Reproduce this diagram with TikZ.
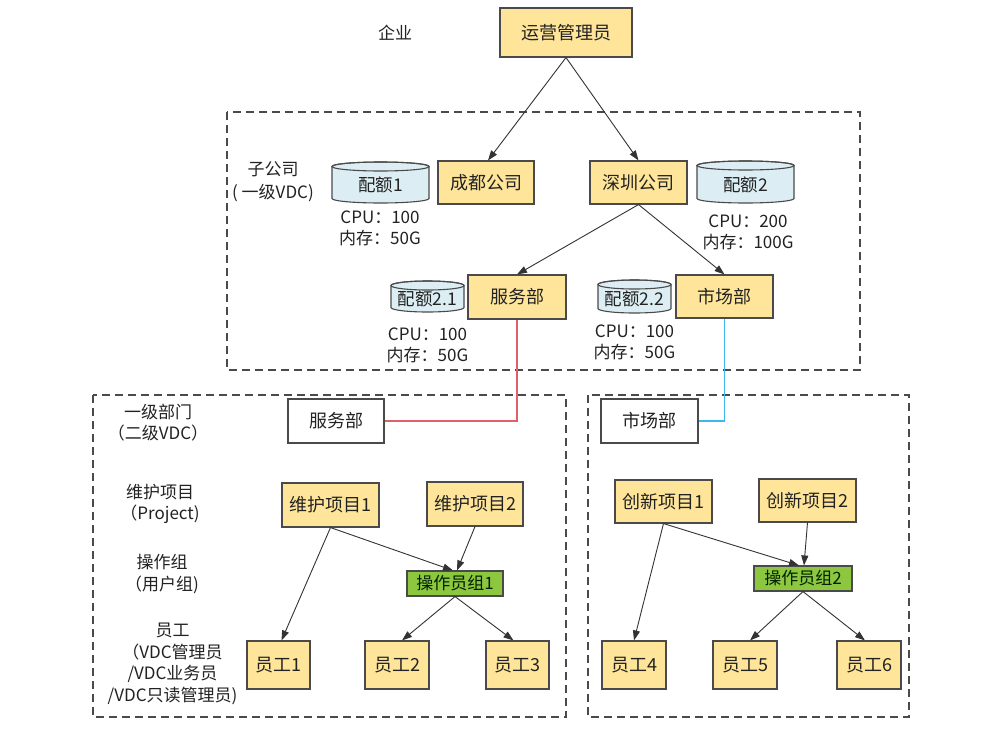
\documentclass[tikz,border=0pt]{standalone}
\usepackage{fontspec}
\setmainfont{Noto Sans CJK SC}
\usetikzlibrary{arrows.meta,calc}
\definecolor{ylw}{HTML}{FFE599}
\definecolor{grn}{HTML}{8DC63F}
\definecolor{cyl}{HTML}{DCEEF3}
\definecolor{bdr}{HTML}{4A4A4A}
\definecolor{arr}{HTML}{333333}
\definecolor{redl}{HTML}{E06068}
\definecolor{bluel}{HTML}{3DB8EA}
\definecolor{txt}{HTML}{222222}
\newcommand{\mycyl}[6]{% name, x0, y0, x1, y1, text
  \path[draw=bdr,fill=cyl,line width=1.1pt] (#2,#3+4.5) -- (#2,#5-4.5)
    arc[start angle=180,end angle=0,x radius={(#4-#2)/2},y radius=4.5]
    -- (#4,#3+4.5)
    arc[start angle=0,end angle=-180,x radius={(#4-#2)/2},y radius=4.5] -- cycle;
  \draw[bdr,line width=1.1pt] ({(#2+#4)/2},#3+4.5) ellipse[x radius={(#4-#2)/2},y radius=4.5];
  \node[txt,inner sep=0pt,font=\fontsize{17.5}{20}\selectfont] (#1) at ({(#2+#4)/2},{(#3+#5)/2+2.5}) {#6};
}
\begin{document}
\begin{tikzpicture}[x=1pt,y=-1pt,
  base/.style={draw=bdr,line width=1.1pt,text=txt,inner sep=0pt,
    font=\fontsize{18}{20}\selectfont},
  ybox/.style={base,fill=ylw},
  wbox/.style={base,fill=white},
  gbox/.style={base,fill=grn,text=black!75!green!50!black,font=\fontsize{17}{18}\selectfont},
  lbl/.style={text=txt,align=center,inner sep=0pt,font=\fontsize{17}{21.5}\selectfont},
  qlbl/.style={text=txt,align=center,inner sep=0pt,font=\fontsize{17}{21}\selectfont},
  sz/.style 2 args={minimum width=#1pt,minimum height=#2pt},
  arrow/.style={draw=arr,line width=0.9pt,-{Triangle[length=10pt,width=7pt]}},
  region/.style={draw=bdr,line width=1.1pt,dash pattern=on 8pt off 5pt}]
\useasboundingbox (0,0) rectangle (1000,734);
\fill[white] (0,0) rectangle (1000,734);

% dashed regions
\draw[region] (227,112) rectangle (860,370);
\draw[region] (93,395) rectangle (566,717);
\draw[region] (588,395) rectangle (909,717);

% top
\node[lbl] (qiye) at (395,33) {企业};
\node[ybox,sz={132}{49}] (yy) at (566,32.5) {运营管理员};

% subsidiaries
\node[lbl,font=\fontsize{17}{23}\selectfont] (zgs) at (273,181.5) {子公司\\( 一级VDC)};
\node[ybox,sz={96}{43}] (cd) at (486,182.5) {成都公司};
\node[ybox,sz={97}{43}] (sz) at (638.5,182.5) {深圳公司};
\mycyl{pe1}{332}{162}{429}{203}{配额1}
\mycyl{pe2}{697}{161}{794}{203}{配额2}
\node[qlbl] (q1) at (380,228.5) {CPU：100\\内存：50G};
\node[qlbl] (q2) at (748,232.5) {CPU：200\\内存：100G};

% departments
\node[ybox,sz={98}{44}] (fwT) at (517,297) {服务部};
\node[ybox,sz={97}{43}] (scT) at (724.5,296.5) {市场部};
\mycyl{pe21}{391}{281}{464}{312}{配额2.1}
\mycyl{pe22}{598}{280}{671}{313}{配额2.2}
\node[qlbl] (q21) at (427.5,345.5) {CPU：100\\内存：50G};
\node[qlbl] (q22) at (634.5,342) {CPU：100\\内存：50G};

% lower left
\node[lbl] (l1) at (158,422.5) {一级部门\\（二级VDC）};
\node[lbl] (l2) at (160,504) {维护项目\\（Project)};
\node[lbl] (l3) at (162,574) {操作组\\（用户组)};
\node[lbl] (l4) at (172.5,664) {员工\\（VDC管理员\\/VDC业务员\\/VDC只读管理员)};
\node[wbox,sz={96}{44}] (fwB) at (336,421) {服务部};
\node[ybox,sz={97}{44}] (wh1) at (330.5,505) {维护项目1};
\node[ybox,sz={96}{44}] (wh2) at (475,504) {维护项目2};
\node[gbox,sz={96}{25}] (op1) at (455,583.5) {操作员组1};
\node[ybox,sz={63}{48}] (e1) at (278.5,665) {员工1};
\node[ybox,sz={64}{48}] (e2) at (397,665) {员工2};
\node[ybox,sz={63}{48}] (e3) at (517.5,665) {员工3};

% lower right
\node[wbox,sz={97}{44}] (scB) at (649.5,421) {市场部};
\node[ybox,sz={97}{43}] (cx1) at (663.5,501.5) {创新项目1};
\node[ybox,sz={97}{43}] (cx2) at (807.5,500.5) {创新项目2};
\node[gbox,sz={98}{25}] (op2) at (803,578.5) {操作员组2};
\node[ybox,sz={64}{48}] (e4) at (634,665) {员工4};
\node[ybox,sz={64}{48}] (e5) at (745,665) {员工5};
\node[ybox,sz={64}{48}] (e6) at (869,665) {员工6};

% connectors
\draw[arrow] (yy.south) -- ($(cd.north)+(2,0)$);
\draw[arrow] (yy.south) -- (sz.north);
\draw[arrow] (sz.south) -- (fwT.north);
\draw[arrow] (sz.south) -- (scT.north);
\draw[redl,line width=1.1pt] (fwT.south) |- (fwB.east);
\draw[bluel,line width=1.1pt] (scT.south) |- (scB.east);

\draw[arrow] (wh1.south) -- ($(e1.north)+(3,0)$);
\draw[arrow] (wh1.south) -- ($(op1.north)+(-2,0)$);
\draw[arrow] (wh2.south) -- ($(op1.north)+(2,0)$);
\draw[arrow] (op1.south) -- ($(e2.north)+(5,0)$);
\draw[arrow] (op1.south) -- ($(e3.north)+(-4,0)$);

\draw[arrow] (cx1.south) -- (e4.north);
\draw[arrow] (cx1.south) -- ($(op2.north)+(-4,0)$);
\draw[arrow] (cx2.south) -- ($(op2.north)+(1,0)$);
\draw[arrow] (op2.south) -- ($(e5.north)+(5,0)$);
\draw[arrow] (op2.south) -- ($(e6.north)+(-4,0)$);
\end{tikzpicture}
\end{document}
